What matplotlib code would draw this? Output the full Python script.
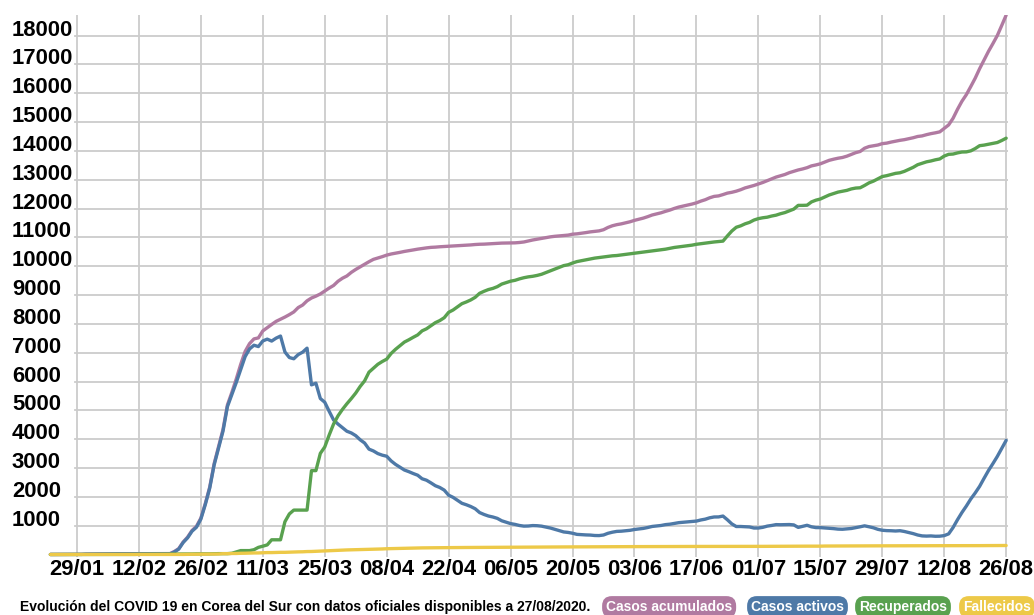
import pandas as pd
import matplotlib
matplotlib.use("Agg")
from matplotlib import pyplot as plt

plt.rcParams["font.family"] = ["Liberation Sans", "DejaVu Sans"]

START = "2020-01-23"

# Casos acumulados, one value per day from 23/01
confirmed_jan = [1, 2, 2, 3, 4, 4, 4, 4, 11]
confirmed_feb = [12, 15, 15, 16, 19, 23, 24, 24, 25, 27, 28, 28, 28, 28, 28, 29, 30, 31, 31,
                 104, 204, 433, 602, 833, 977, 1261, 1766, 2337, 3150]
confirmed_mar = [3736, 4335, 5186, 5621, 6088, 6593, 7041, 7314, 7478, 7513,
                 7755, 7869, 7979, 8086, 8162, 8236, 8320, 8413, 8565, 8652,
                 8799, 8897, 8961, 9037, 9137, 9241, 9332, 9478, 9583, 9661, 9786]
confirmed_apr = [9887, 9976, 10062, 10156, 10237, 10284, 10331, 10384, 10423, 10450,
                 10480, 10512, 10537, 10564, 10591, 10613, 10635, 10653, 10661, 10674,
                 10683, 10694, 10702, 10708, 10718, 10728, 10738, 10752, 10761, 10765]
confirmed_may = [10774, 10780, 10793, 10801, 10804, 10806, 10810, 10822, 10840, 10874,
                 10909, 10936, 10962, 10991, 11018, 11037, 11050, 11065, 11078, 11110,
                 11122, 11142, 11165, 11190, 11206, 11225, 11265, 11344, 11402, 11441, 11468]
confirmed_jun = [11503, 11541, 11590, 11629, 11668, 11719, 11776, 11814, 11852, 11902,
                 11947, 12003, 12051, 12085, 12121, 12155, 12198, 12257, 12306, 12373,
                 12421, 12438, 12484, 12535, 12563, 12602, 12653, 12715, 12757, 12800]
confirmed_jul = [12850, 12904, 12967, 13030, 13091, 13137, 13181, 13244, 13293, 13338,
                 13373, 13417, 13479, 13512, 13551, 13612, 13672, 13711, 13745, 13771,
                 13816, 13879, 13938, 13979, 14092, 14150, 14175, 14203, 14251, 14269, 14305]
confirmed_aug = [14336, 14366, 14389, 14423, 14456, 14499, 14519, 14562, 14598, 14626,
                 14660, 14780, 14900, 15130, 15440, 15720, 15950, 16230, 16520, 16850,
                 17150, 17450, 17720, 18000, 18350, 18710]

# Recuperados
recovered_jan = [0] * 9
recovered_feb = [0, 0, 0, 0, 0, 1, 1, 1, 3, 3, 3, 7, 7, 7, 9, 9, 10, 12, 12,
                 16, 16, 16, 18, 18, 22, 22, 22, 22, 27]
recovered_mar = [30, 30, 30, 41, 88, 135, 135, 135, 166, 247,
                 288, 333, 510, 510, 510, 1137, 1407, 1540, 1540, 1540,
                 1540, 2909, 2909, 3507, 3730, 4144, 4528, 4811, 5033, 5228, 5408]
recovered_apr = [5600, 5828, 6021, 6325, 6463, 6598, 6694, 6776, 6973, 7117,
                 7243, 7368, 7447, 7534, 7616, 7757, 7829, 7937, 8042, 8114,
                 8213, 8400, 8480, 8590, 8700, 8760, 8830, 8920, 9060, 9130]
recovered_may = [9190, 9230, 9290, 9380, 9430, 9480, 9510, 9560, 9600, 9630,
                 9650, 9680, 9720, 9780, 9840, 9900, 9960, 10020, 10050, 10110,
                 10160, 10190, 10220, 10250, 10280, 10300, 10320, 10340, 10360, 10370, 10390]
recovered_jun = [10410, 10430, 10450, 10470, 10490, 10510, 10530, 10550, 10570, 10590,
                 10620, 10650, 10670, 10690, 10710, 10730, 10760, 10780, 10800, 10820,
                 10840, 10855, 10870, 11050, 11220, 11350, 11400, 11470, 11520, 11600]
recovered_jul = [11650, 11680, 11700, 11740, 11770, 11820, 11860, 11920, 11980, 12110,
                 12110, 12115, 12230, 12290, 12330, 12400, 12470, 12520, 12570, 12600,
                 12630, 12680, 12710, 12720, 12800, 12890, 12950, 13030, 13110, 13140, 13180]
recovered_aug = [13220, 13240, 13290, 13360, 13430, 13520, 13570, 13620, 13650, 13690,
                 13720, 13820, 13880, 13890, 13930, 13960, 13965, 14000, 14080, 14180,
                 14200, 14230, 14260, 14290, 14360, 14440]

# Fallecidos
deaths_jan = [0] * 9
deaths_feb = [0] * 19 + [1, 2, 2, 6, 8, 10, 12, 13, 13, 16]
deaths_mar = [17, 28, 28, 35, 35, 42, 44, 50, 53, 54,
              60, 66, 66, 72, 75, 75, 81, 84, 91, 94,
              102, 104, 111, 120, 126, 131, 139, 144, 152, 158, 162]
deaths_apr = [165, 169, 174, 177, 183, 186, 192, 200, 204, 208,
              211, 214, 217, 222, 225, 229, 230, 232, 234, 236,
              237, 238, 240, 240, 242, 243, 244, 246, 247, 247]
deaths_may = [250, 250, 250, 252, 254, 255, 256, 256, 256, 256,
              256, 258, 259, 260, 260, 262, 262, 263, 263, 263,
              264, 264, 266, 266, 267, 269, 269, 269, 269, 270, 270]
deaths_jun = [271, 272, 273, 273, 273, 273, 273, 273, 276, 276,
              276, 277, 277, 277, 277, 278, 279, 279, 280, 280,
              280, 280, 281, 281, 282, 282, 282, 282, 282, 282]
deaths_jul = [282, 282, 283, 283, 285, 285, 285, 285, 287, 288,
              288, 289, 289, 289, 289, 293, 293, 294, 295, 296,
              296, 297, 297, 298, 298, 298, 299, 300, 300, 301, 301]
deaths_aug = [301, 301, 301, 301, 302, 303, 304, 304, 304, 304,
              305, 305, 305, 305, 305, 305, 305, 306, 306, 307,
              309, 309, 309, 309, 310, 312]

confirmed = (confirmed_jan + confirmed_feb + confirmed_mar + confirmed_apr
             + confirmed_may + confirmed_jun + confirmed_jul + confirmed_aug)
recovered = (recovered_jan + recovered_feb + recovered_mar + recovered_apr
             + recovered_may + recovered_jun + recovered_jul + recovered_aug)
deaths = (deaths_jan + deaths_feb + deaths_mar + deaths_apr
          + deaths_may + deaths_jun + deaths_jul + deaths_aug)
# casos activos = acumulados - recuperados - fallecidos
active = [c - r - d for c, r, d in zip(confirmed, recovered, deaths)]

dates = pd.date_range(START, periods=len(confirmed), freq="D")
tick_dates = pd.date_range("2020-01-29", "2020-08-26", freq="14D")
y_ticks = list(range(1000, 19000, 1000))

SERIES = [
    ("Casos acumulados", confirmed, "#b07aa1"),
    ("Casos activos", active, "#4e79a7"),
    ("Recuperados", recovered, "#59a14f"),
    ("Fallecidos", deaths, "#edc948"),
]
GRID = "#cccccc"
W, H = 1034, 615

fig = plt.figure(figsize=(W / 100, H / 100), dpi=100)
ax = fig.add_axes([46 / W, 58 / H, 962 / W, 542 / H])

for name, values, color in SERIES:
    ax.plot(dates, values, color=color, lw=2.4, solid_capstyle="round",
            solid_joinstyle="round", zorder=3)

ax.set_xlim(pd.Timestamp("2020-01-22"), pd.Timestamp("2020-08-26 10:00"))
ax.set_ylim(-87, 18713)

ax.set_xticks(tick_dates)
ax.set_xticklabels([d.strftime("%d/%m") for d in tick_dates],
                   fontsize=15.8, fontweight="bold")
ax.set_yticks(y_ticks)
ax.set_yticklabels([str(v) for v in y_ticks], fontsize=15.8,
                   fontweight="bold", ha="left", va="baseline")
ax.tick_params(axis="x", length=0, pad=1.2)
ax.tick_params(axis="y", length=0, pad=24.5)

ax.grid(axis="x", color=GRID, lw=1.3, zorder=0)
for v in y_ticks:
    ax.axhline(v, xmin=(75 - 46) / 962, xmax=1, color=GRID, lw=1.3, zorder=0)
for side in ax.spines.values():
    side.set_visible(False)

fig.text(20 / W, 1 - 607 / H,
         "Evolución del COVID 19 en Corea del Sur con datos oficiales "
         "disponibles a 27/08/2020.",
         fontsize=10, fontweight="bold", ha="left", va="center")

pill_x = [606, 751, 859, 963]
for (name, _, color), px in zip(SERIES, pill_x):
    fig.text(px / W, 1 - 607 / H, name, color="white", fontsize=10,
             fontweight="bold", ha="left", va="center",
             bbox=dict(boxstyle="round,pad=0.28,rounding_size=0.7",
                       fc=color, ec="none"))

fig.savefig("out.png", dpi=100)
